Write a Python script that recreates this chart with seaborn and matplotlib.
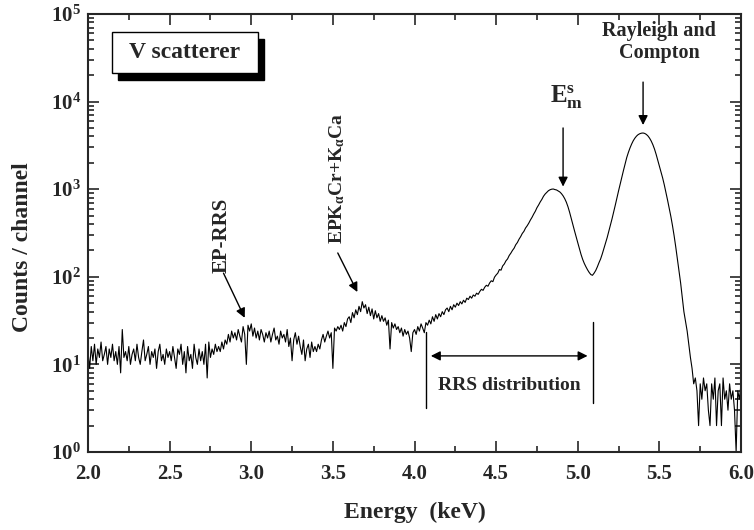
import numpy as np
import matplotlib
matplotlib.use("Agg")
import matplotlib.pyplot as plt
import matplotlib.ticker as mticker
from matplotlib.patches import Rectangle
import seaborn as sns

# channel energies (keV), 0.01 keV steps
energy = np.round(np.arange(2.0, 6.0001, 0.01), 2)

# counts per channel (one row = 0.1 keV)
counts = [
    14, 9, 16, 11, 17, 10, 15, 12, 18, 11,
    13, 16, 10, 15, 12, 17, 11, 14, 10, 16,
    8, 25, 12, 14, 11, 16, 10, 13, 15, 11,
    17, 12, 10, 14, 19, 11, 13, 16, 10, 14,
    12, 15, 9, 14, 17, 11, 13, 10, 15, 12,
    14, 11, 16, 12, 9, 15, 13, 17, 10, 14,
    8, 16, 11, 13, 9, 17, 12, 10, 15, 11,
    14, 10, 17, 7, 18, 12, 15, 13, 17, 14,
    16, 14, 18, 15, 19, 17, 22, 18, 24, 20,
    23, 19, 25, 21, 18, 27, 22, 10, 28, 24,
    29, 21, 26, 20, 24, 19, 25, 22, 18, 23,
    20, 24, 18, 22, 26, 19, 21, 17, 24, 20,
    22, 18, 25, 16, 20, 11, 19, 23, 17, 21,
    16, 13, 19, 11, 15, 17, 12, 18, 14, 16,
    14, 17, 15, 19, 22, 18, 21, 24, 20, 23,
    9, 26, 24, 27, 25, 28, 24, 30, 27, 33,
    35, 30, 39, 34, 42, 37, 46, 40, 52, 44,
    48, 38, 45, 36, 43, 33, 41, 34, 38, 31,
    36, 31, 34, 28, 32, 15, 30, 26, 29, 25,
    27, 23, 26, 21, 25, 22, 24, 20, 14, 23,
    25, 22, 27, 24, 29, 26, 23, 30, 28, 32,
    29, 35, 31, 37, 33, 38, 35, 40, 37, 42,
    44, 40, 46, 42, 48, 45, 50, 47, 52, 49,
    54, 51, 57, 55, 60, 57, 62, 60, 65, 63,
    68, 72, 70, 76, 80, 78, 85, 90, 88, 99,
    105, 110, 121, 119, 133, 140, 152, 160, 175, 186,
    200, 212, 232, 246, 268, 287, 312, 330, 360, 382,
    410, 445, 478, 520, 560, 615, 660, 715, 765, 830,
    880, 920, 960, 985, 1000, 1005, 990, 980, 955, 930,
    890, 840, 780, 710, 630, 545, 465, 395, 335, 285,
    245, 210, 180, 158, 142, 130, 120, 112, 106, 104,
    110, 118, 130, 145, 160, 182, 210, 240, 280, 330,
    390, 460, 550, 660, 800, 960, 1150, 1380, 1640, 1950,
    2300, 2630, 2960, 3280, 3580, 3830, 4040, 4200, 4300, 4360,
    4380, 4330, 4220, 4050, 3820, 3540, 3220, 2870, 2500, 2140,
    1820, 1580, 1340, 1120, 920, 750, 610, 490, 385, 295,
    220, 160, 118, 85, 58, 40, 31, 24, 17, 12,
    9, 6, 7, 5, 2, 6, 4, 7, 5, 6,
    3, 2, 6, 4, 7, 2, 5, 6, 2, 7,
    4, 5, 3, 6, 4, 5, 3, 1, 5, 4,
    6,
]

x_ticks = [2.0, 2.5, 3.0, 3.5, 4.0, 4.5, 5.0, 5.5, 6.0]
y_ticks = [1, 10, 100, 1000, 10000, 100000]
y_labels = [r"$10^{0}$", r"$10^{1}$", r"$10^{2}$", r"$10^{3}$", r"$10^{4}$", r"$10^{5}$"]

sns.set_style("ticks")
plt.rcParams["font.family"] = ["Liberation Serif", "DejaVu Serif"]
plt.rcParams["font.weight"] = "bold"
plt.rcParams["axes.labelweight"] = "bold"
plt.rcParams["mathtext.fontset"] = "custom"
plt.rcParams["mathtext.rm"] = "Liberation Serif:bold"
plt.rcParams["mathtext.bf"] = "Liberation Serif:bold"
plt.rcParams["mathtext.it"] = "Liberation Serif:italic:bold"
plt.rcParams["mathtext.default"] = "rm"

fig = plt.figure(figsize=(7.54, 5.30), dpi=100)
ax = fig.add_axes([0.1167, 0.1472, 0.8661, 0.8264])

sns.lineplot(x=energy, y=counts, ax=ax, color="black", linewidth=0.8)

ax.set_yscale("log")
ax.set_xlim(2.0, 6.0)
ax.set_ylim(1, 1e5)
ax.set_xticks(x_ticks)
ax.set_xticklabels([f"{v:.1f}" for v in x_ticks])
ax.xaxis.set_minor_locator(mticker.MultipleLocator(0.25))
ax.set_yticks(y_ticks)
ax.set_yticklabels(y_labels)
ax.yaxis.set_minor_locator(mticker.LogLocator(base=10, subs=np.arange(2, 10)))
ax.yaxis.set_minor_formatter(mticker.NullFormatter())

for sp in ax.spines.values():
    sp.set_linewidth(1.5)
    sp.set_visible(True)
ax.tick_params(which="both", direction="in", top=True, right=True, width=1.2,
               labelsize=15)
ax.tick_params(which="major", length=8)
ax.tick_params(which="minor", length=4.5)
ax.tick_params(axis="x", which="major", pad=9)
ax.tick_params(axis="y", which="major", pad=5)

ax.set_xlabel("Energy  (keV)", fontsize=17)
ax.set_ylabel("Counts / channel", fontsize=17)
ax.xaxis.set_label_coords(0.5, -0.114)
ax.yaxis.set_label_coords(-0.0842, 0.468)

# "V scatterer" box with drop shadow
ax.add_patch(Rectangle((0.0459, 0.849), 0.2236, 0.0936, transform=ax.transAxes,
                       facecolor="black", edgecolor="black", zorder=4))
ax.add_patch(Rectangle((0.0368, 0.865), 0.2236, 0.0936, transform=ax.transAxes,
                       facecolor="white", edgecolor="black", linewidth=1.0, zorder=5))
ax.text(0.1486, 0.912, "V scatterer", transform=ax.transAxes, fontsize=17,
        ha="center", va="center", zorder=6)

arrow = dict(arrowstyle="-|>", color="black", lw=1.0, mutation_scale=14,
             shrinkA=0, shrinkB=0)

ax.text(5.50, 8.3e4, "Rayleigh and\nCompton", fontsize=14.5, ha="center", va="top",
        linespacing=1.15)
ax.annotate("", xy=(5.40, 5400), xytext=(5.40, 1.67e4), arrowprops=arrow)

ax.text(4.93, 1.15e4, r"$\mathrm{E}_{\mathrm{m}}^{\mathrm{s}}$", fontsize=18,
        ha="center", va="center")
ax.annotate("", xy=(4.91, 1070), xytext=(4.91, 5000), arrowprops=arrow)

ax.text(2.82, 300, "EP-RRS", fontsize=15, rotation=90, ha="center", va="center")
ax.annotate("", xy=(2.96, 34), xytext=(2.83, 110), arrowprops=arrow)

ax.text(3.525, 1340, r"EPK$_{\alpha}$Cr+K$_{\alpha}$Ca", fontsize=14, rotation=90,
        ha="center", va="center")
ax.annotate("", xy=(3.65, 67), xytext=(3.53, 187), arrowprops=arrow)

ax.plot([4.07, 4.07], [3.2, 23.4], color="black", lw=1.0)
ax.plot([5.095, 5.095], [3.6, 30.5], color="black", lw=1.0)
ax.annotate("", xy=(4.10, 12.5), xytext=(5.06, 12.5),
            arrowprops=dict(arrowstyle="<|-|>", color="black", lw=1.0,
                            mutation_scale=14, shrinkA=0, shrinkB=0))
ax.text(4.58, 5.8, "RRS distribution", fontsize=14, ha="center", va="center")

fig.savefig("out.png", dpi=100)
